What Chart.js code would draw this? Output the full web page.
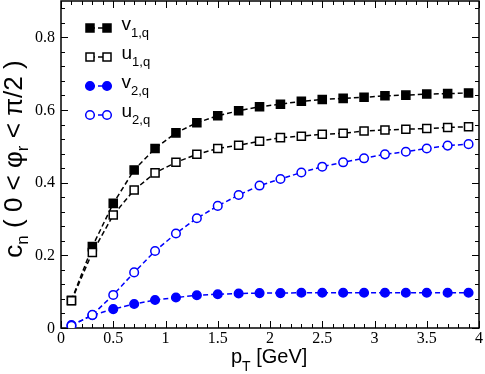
<!DOCTYPE html>
<html>
<head>
<meta charset="utf-8">
<script src="https://cdn.jsdelivr.net/npm/chart.js@4.4.0/dist/chart.umd.min.js"></script>
<style>
  html, body { margin: 0; padding: 0; background: #fff; }
</style>
</head>
<body>
<canvas id="chart" width="485" height="374"></canvas>
<script>
// data
const pT = [0.1, 0.3, 0.5, 0.7, 0.9, 1.1, 1.3, 1.5, 1.7, 1.9, 2.1, 2.3, 2.5, 2.7, 2.9, 3.1, 3.3, 3.5, 3.7, 3.9];
const v1q = [0.076, 0.224, 0.343, 0.435, 0.494, 0.537, 0.565, 0.584, 0.598, 0.609, 0.616, 0.624, 0.629, 0.632, 0.635, 0.639, 0.641, 0.644, 0.645, 0.647];
const u1q = [0.075, 0.208, 0.311, 0.380, 0.427, 0.456, 0.478, 0.494, 0.503, 0.514, 0.524, 0.528, 0.533, 0.536, 0.542, 0.545, 0.547, 0.549, 0.552, 0.554];
const v2q = [0.008, 0.035, 0.052, 0.066, 0.077, 0.084, 0.090, 0.093, 0.095, 0.096, 0.096, 0.097, 0.097, 0.097, 0.097, 0.097, 0.097, 0.097, 0.097, 0.097];
const u2q = [0.006, 0.036, 0.091, 0.153, 0.212, 0.260, 0.302, 0.336, 0.366, 0.392, 0.410, 0.428, 0.444, 0.456, 0.467, 0.478, 0.485, 0.494, 0.502, 0.506];

const legendLabels = [['v', '1,q'], ['u', '1,q'], ['v', '2,q'], ['u', '2,q']];
const xTitle = [['p', false], ['T', true], [' [GeV]', false]];
const yTitle = [['c', false], ['n', true], [' ( 0 < \u03c6', false], ['r', true], [' < \u03c0/2 )', false]];

const BLUE = '#0000ff';
const SANS = '"Liberation Sans", Arial, sans-serif';
const SERIF = '16px "Liberation Serif", "Times New Roman", serif';

function pts(ys) {
    return pT.map((x, i) => ({ x: x, y: ys[i] }));
}

function fmt(v) {
    return String(Math.round(v * 100) / 100);
}

function drawParts(ctx, parts, x, y, mainFont, subFont, shift) {
    parts.forEach(p => {
        ctx.font = p[1] ? subFont : mainFont;
        ctx.fillText(p[0], x, y + (p[1] ? shift : 0));
        x += ctx.measureText(p[0]).width;
    });
    return x;
}

function partsWidth(ctx, parts, mainFont, subFont) {
    let w = 0;
    parts.forEach(p => {
        ctx.font = p[1] ? subFont : mainFont;
        w += ctx.measureText(p[0]).width;
    });
    return w;
}

function marker(ctx, ds, x, y) {
    ctx.save();
    ctx.lineWidth = 1.5;
    ctx.strokeStyle = ds.pointBorderColor;
    ctx.fillStyle = ds.pointBackgroundColor;
    ctx.beginPath();
    if (ds.pointStyle === 'rect') {
        ctx.rect(x - 4, y - 4, 8, 8);
    } else {
        ctx.arc(x, y, 4.3, 0, Math.PI * 2);
    }
    ctx.fill();
    ctx.stroke();
    ctx.restore();
}

// frame with inward ticks on all four sides, serif tick labels
const framePlugin = {
    id: 'frame',
    beforeDatasetsDraw(chart) {
        const ctx = chart.ctx;
        const a = chart.chartArea;
        const xs = chart.scales.x, ys = chart.scales.y;
        ctx.save();
        ctx.strokeStyle = '#000';
        ctx.lineWidth = 1.5;
        ctx.strokeRect(a.left, a.top, a.right - a.left, a.bottom - a.top);
        ctx.lineWidth = 1;
        ctx.beginPath();
        for (let i = 0; i <= 40; i++) {
            const px = Math.round(xs.getPixelForValue(i / 10)) + 0.5;
            const len = i % 5 === 0 ? 7 : 4;
            ctx.moveTo(px, a.bottom); ctx.lineTo(px, a.bottom - len);
            ctx.moveTo(px, a.top); ctx.lineTo(px, a.top + len);
        }
        for (let i = 0; i <= 22; i++) {
            const py = Math.round(ys.getPixelForValue(i * 0.04)) + 0.5;
            const len = i % 5 === 0 ? 7 : 4;
            ctx.moveTo(a.left, py); ctx.lineTo(a.left + len, py);
            ctx.moveTo(a.right, py); ctx.lineTo(a.right - len, py);
        }
        ctx.stroke();

        // tick labels from the scales' own ticks
        ctx.fillStyle = '#000';
        ctx.font = SERIF;
        ctx.textAlign = 'center';
        ctx.textBaseline = 'alphabetic';
        xs.ticks.forEach(t => {
            ctx.fillText(fmt(t.value), xs.getPixelForValue(t.value), a.bottom + 15);
        });
        ctx.textAlign = 'right';
        ctx.textBaseline = 'middle';
        ys.ticks.forEach(t => {
            ctx.fillText(fmt(t.value), a.left - 6, ys.getPixelForValue(t.value) + 0.5);
        });
        ctx.restore();
    },
    afterDraw(chart) {
        const ctx = chart.ctx;
        const a = chart.chartArea;
        ctx.save();
        ctx.fillStyle = '#000';
        ctx.textBaseline = 'alphabetic';
        ctx.textAlign = 'left';

        // legend
        chart.data.datasets.forEach((ds, i) => {
            const cy = a.top + 27 + i * 29;
            ctx.save();
            ctx.strokeStyle = ds.borderColor;
            ctx.lineWidth = 1.5;
            ctx.setLineDash(ds.borderDash);
            ctx.beginPath();
            ctx.moveTo(a.left + 29, cy);
            ctx.lineTo(a.left + 46, cy);
            ctx.stroke();
            ctx.restore();
            marker(ctx, ds, a.left + 29, cy);
            marker(ctx, ds, a.left + 46, cy);
            const lab = legendLabels[i];
            drawParts(ctx, [[lab[0], false], [lab[1], true]], a.left + 60.5, cy + 1.5,
                '19px ' + SANS, '13px ' + SANS, 7);
        });

        // x title
        drawParts(ctx, xTitle, 231, 363, '20px ' + SANS, '14px ' + SANS, 8);

        // y title, rotated
        const mf = '26px ' + SANS, sf = '17px ' + SANS;
        const w = partsWidth(ctx, yTitle, mf, sf);
        ctx.translate(22, 159);
        ctx.rotate(-Math.PI / 2);
        drawParts(ctx, yTitle, -w / 2, 0, mf, sf, 6);
        ctx.restore();
    }
};

new Chart(document.getElementById('chart'), {
    type: 'line',
    data: {
        datasets: [
            {
                label: 'v1,q', data: pts(v1q), order: 4,
                borderColor: '#000', borderWidth: 1.5, borderDash: [5, 3],
                pointStyle: 'rect', pointRadius: 5.7, pointBorderWidth: 1.5,
                pointBackgroundColor: '#000', pointBorderColor: '#000'
            },
            {
                label: 'u1,q', data: pts(u1q), order: 3,
                borderColor: '#000', borderWidth: 1.5, borderDash: [5, 3],
                pointStyle: 'rect', pointRadius: 5.7, pointBorderWidth: 1.5,
                pointBackgroundColor: '#fff', pointBorderColor: '#000'
            },
            {
                label: 'v2,q', data: pts(v2q), order: 2,
                borderColor: BLUE, borderWidth: 1.5, borderDash: [5, 3],
                pointStyle: 'circle', pointRadius: 4.3, pointBorderWidth: 1.5,
                pointBackgroundColor: BLUE, pointBorderColor: BLUE
            },
            {
                label: 'u2,q', data: pts(u2q), order: 1,
                borderColor: BLUE, borderWidth: 1.5, borderDash: [5, 3],
                pointStyle: 'circle', pointRadius: 4.3, pointBorderWidth: 1.5,
                pointBackgroundColor: '#fff', pointBorderColor: BLUE
            }
        ]
    },
    options: {
        responsive: false,
        animation: false,
        layout: { autoPadding: false, padding: { top: 1, right: 6, left: 0, bottom: 0 } },
        plugins: { legend: { display: false }, tooltip: { enabled: false } },
        scales: {
            x: {
                type: 'linear', min: 0, max: 4,
                grid: { display: false, drawTicks: false },
                border: { display: false },
                ticks: { stepSize: 0.5, includeBounds: false, display: false },
                afterFit(s) { s.height = 46; }
            },
            y: {
                min: 0, max: 0.9,
                grid: { display: false, drawTicks: false },
                border: { display: false },
                ticks: { stepSize: 0.2, includeBounds: false, display: false },
                afterFit(s) { s.width = 61; }
            }
        }
    },
    plugins: [framePlugin]
});
</script>
</body>
</html>
